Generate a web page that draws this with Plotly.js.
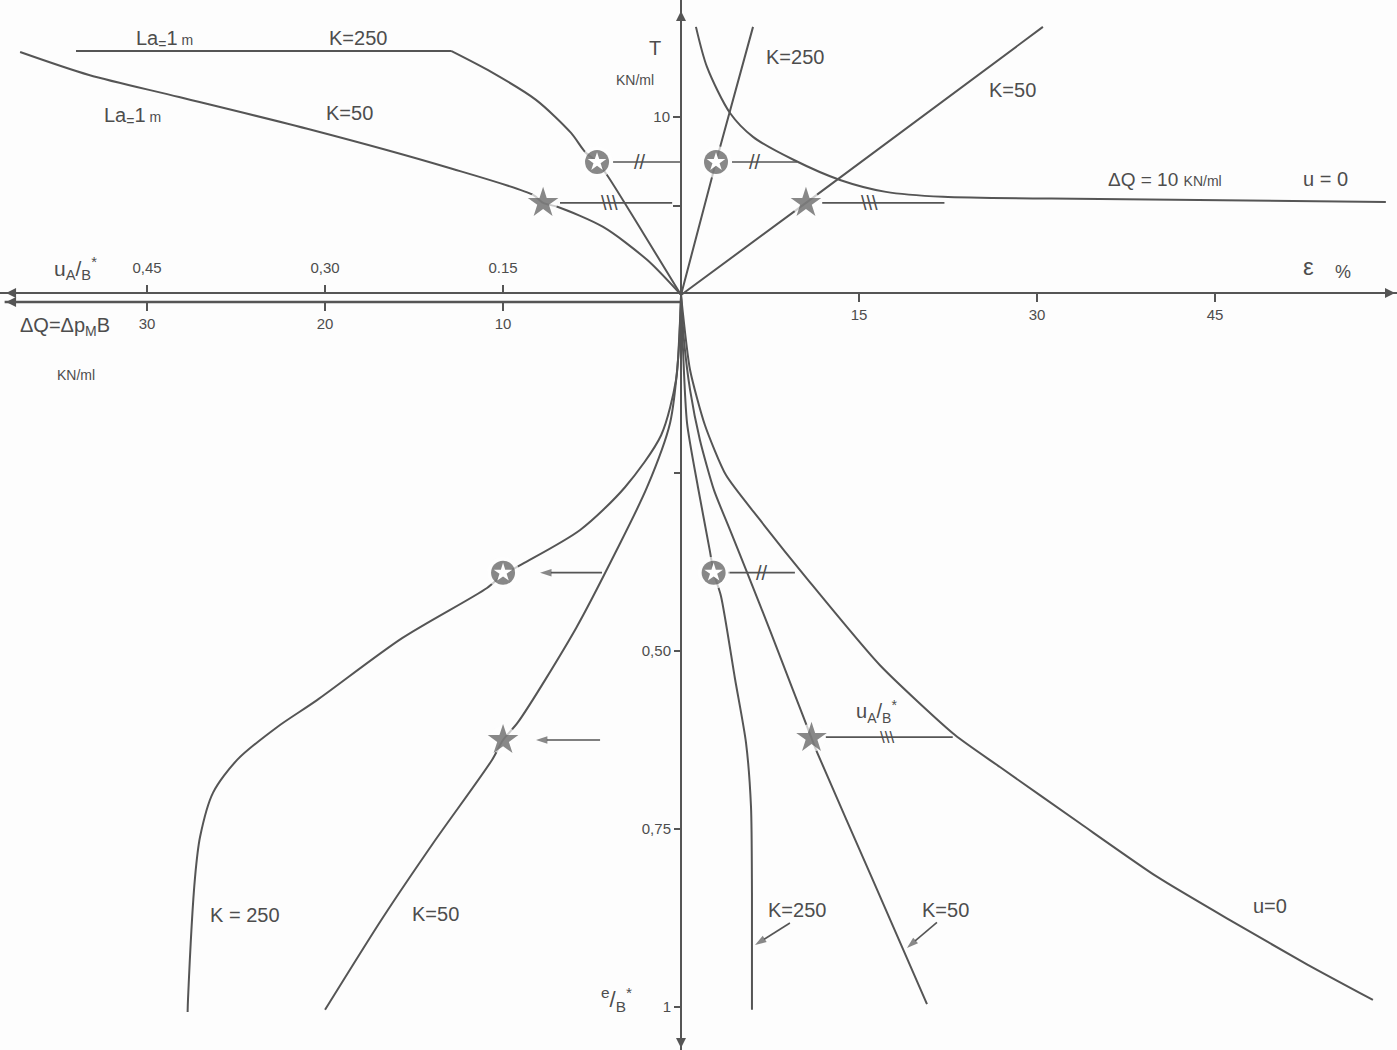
<!DOCTYPE html>
<html><head><meta charset="utf-8">
<script src="https://cdn.plot.ly/plotly-3.0.1.min.js"></script>
<style>html,body{margin:0;padding:0;background:#fdfdfd}</style>
</head><body><div id="chart" style="width:1397px;height:1050px"></div>
<script>
// ---------- DATA ----------
// Upper-left quadrant: T (KN/ml) vs ΔQ (KN/ml), La = 1 m
const ulK250Flat_dQ = [33.99, 12.92];
const ulK250Flat_T  = [13.71, 13.71];
const ulK250_dQ = [12.92, 10.67, 8.15, 6.18, 5.39, 4.72, 4.16, 2.13, 0];
const ulK250_T  = [13.71, 12.53, 10.96, 9.10, 8.03, 7.47, 6.74, 3.48, 0];
const ulK50_dQ  = [37.13, 33.26, 28.2, 20.73, 13.2, 8.31, 7.75, 6.91, 4.38, 1.91, 0];
const ulK50_T   = [13.65, 12.36, 11.12, 9.27, 7.19, 5.62, 5.17, 4.94, 3.82, 1.97, 0];
// Upper-right quadrant: T vs ε (%)
const urK250_eps = [0, 2.95, 6.07];
const urK250_T   = [0, 7.47, 15.06];
const urK50_eps  = [0, 10.53, 30.5];
const urK50_T    = [0, 5.17, 15.06];
const urU0_eps   = [1.26, 2.19, 4.13, 6.07, 9.52, 13.4, 17.27, 22.08, 35.3, 59.4];
const urU0_T     = [15.06, 12.81, 10.22, 8.88, 7.58, 6.46, 5.79, 5.51, 5.39, 5.22];
// Lower-left quadrant: e/B* vs ΔQ
const llK250_dQ = [0, 0.11, 0.28, 1.12, 3.15, 5.67, 8.93, 10.0, 10.9, 15.67, 20.45, 22.7, 24.94, 26.29, 27.02, 27.3, 27.7, 27.72];
const llK250_e  = [0, 0.063, 0.119, 0.197, 0.270, 0.330, 0.378, 0.393, 0.4115, 0.482, 0.569, 0.607, 0.653, 0.699, 0.761, 0.817, 0.99, 1.007];
const llK50_dQ  = [0, 0.17, 0.62, 1.91, 3.65, 5.9, 9.16, 10.0, 10.62, 13.93, 16.74, 20.0];
const llK50_e   = [0, 0.091, 0.180, 0.270, 0.360, 0.468, 0.600, 0.625, 0.653, 0.770, 0.874, 1.004];
// Lower-right quadrant: e/B* vs ε
const lrK250_eps = [0, 0.17, 0.51, 1.43, 2.44, 2.75, 3.37, 4.55, 5.48, 5.90, 5.98, 5.98];
const lrK250_e   = [0, 0.077, 0.180, 0.270, 0.360, 0.39, 0.423, 0.539, 0.629, 0.719, 0.840, 1.004];
const lrK50_eps  = [0, 0.25, 0.76, 1.60, 2.78, 4.13, 5.65, 7.50, 9.44, 11.04, 11.46, 16.1, 20.73];
const lrK50_e    = [0, 0.063, 0.133, 0.204, 0.274, 0.330, 0.393, 0.471, 0.555, 0.624, 0.642, 0.819, 0.996];
const lrU0_eps   = [0, 0.76, 2.02, 3.79, 6.66, 10.70, 16.77, 23.09, 26.88, 33.62, 40.11, 46.26, 52.75, 58.31];
const lrU0_e     = [0, 0.105, 0.183, 0.253, 0.316, 0.400, 0.520, 0.618, 0.663, 0.742, 0.817, 0.878, 0.940, 0.990];
// Marked points: [circled star, filled star]
const ulMark_dQ = [4.72, 7.75];  const ulMark_T = [7.47, 5.17];
const urMark_eps = [2.95, 10.53]; const urMark_T = [7.47, 5.17];
const llMark_dQ = [10, 10];      const llMark_e = [0.39, 0.625];
const lrMark_eps = [2.75, 11.0]; const lrMark_e = [0.39, 0.622];
// Reference (projection) lines
const ulRing_dQ = [3.82, 0.06];  const ulRing_T = [7.47, 7.47];
const ulStar_dQ = [6.8, 0.5];    const ulStar_T = [5.17, 5.17];
const urRing_eps = [4.3, 9.77];  const urRing_T = [7.47, 7.47];
const urStar_eps = [11.9, 22.2]; const urStar_T = [5.17, 5.17];
const lrRing_eps = [3.96, 9.6];  const lrRing_e = [0.39, 0.39];
const lrStar_eps = [12.2, 22.9]; const lrStar_e = [0.621, 0.621];
// Lower-left arrows: [tail, head] ΔQ at level e/B*
const llArrowRing_dQ = [4.44, 7.92]; const llArrowRing_e = [0.39, 0.39];
const llArrowStar_dQ = [4.55, 8.15]; const llArrowStar_e = [0.625, 0.625];
// Lower-right label pointers: [tail, head]
const lrPtrK250_eps = [9.18, 6.24];  const lrPtrK250_e = [0.882, 0.913];
const lrPtrK50_eps  = [21.57, 19.04]; const lrPtrK50_e  = [0.881, 0.917];
// Tick values / labels
const epsTicks = [15, 30, 45];
const dQTicks  = [10, 20, 30];
const uTicks   = [0.15, 0.30, 0.45];
const uTickText = ['0.15', '0,30', '0,45'];
const TTicks   = [10];
const TMinor   = [5];
const eTicks   = [0.5, 0.75, 1];
const eTickText = ['0,50', '0,75', '1'];
const eMinor   = [0.25];

// ---------- STYLE ----------
const INK = '#555555';
const TXT = '#4d4d4d';
const BG = '#fdfdfd';
const FONT = 'Liberation Sans, Arial, Helvetica, sans-serif';

function curve(x, y, xa, ya, w, smooth) {
  return {x: x, y: y, xaxis: xa, yaxis: ya, mode: 'lines', hoverinfo: 'skip',
          line: {color: INK, width: w || 2, shape: smooth ? 'spline' : 'linear', smoothing: smooth || 0}};
}
function marks(x, y, xa, ya) {
  return [
    // white halo that opens a gap in the curves
    {x: x, y: y, xaxis: xa, yaxis: ya, mode: 'markers', hoverinfo: 'skip',
     marker: {symbol: 'circle', size: [32, 28], color: BG, line: {width: 0}}},
    {x: x, y: y, xaxis: xa, yaxis: ya, mode: 'markers', hoverinfo: 'skip',
     marker: {symbol: ['circle', 'star'], size: [24, 23], color: INK, line: {width: 0}}},
    {x: [x[0]], y: [y[0]], xaxis: xa, yaxis: ya, mode: 'markers', hoverinfo: 'skip',
     marker: {symbol: 'star', size: 14, color: '#ffffff', line: {width: 0}}}
  ];
}
function arrowLine(x, y, xa, ya) {
  return {x: x, y: y, xaxis: xa, yaxis: ya, mode: 'lines+markers', hoverinfo: 'skip',
    line: {color: INK, width: 1.6},
    marker: {symbol: 'arrow', angleref: 'previous', size: [0, 12], color: INK, line: {width: 0}}};
}
function axisHead(sym, x, y, xa, ya) {
  return {x: [x], y: [y], xaxis: xa, yaxis: ya, mode: 'markers', hoverinfo: 'skip', cliponaxis: false,
    marker: {symbol: sym, size: 10, color: INK, line: {width: 0}}};
}

const data = [
  curve(ulK250Flat_dQ, ulK250Flat_T, 'x2', 'y'),
  curve(ulK250_dQ, ulK250_T, 'x2', 'y', 2, 0.8),
  curve(ulK50_dQ, ulK50_T, 'x2', 'y', 2, 0.8),
  curve(urK250_eps, urK250_T, 'x', 'y'),
  curve(urK50_eps, urK50_T, 'x', 'y'),
  curve(urU0_eps, urU0_T, 'x', 'y', 2, 0.8),
  curve(llK250_dQ, llK250_e, 'x2', 'y2', 2, 0.8),
  curve(llK50_dQ, llK50_e, 'x2', 'y2', 2, 0.8),
  curve(lrK250_eps, lrK250_e, 'x', 'y2', 2, 0.7),
  curve(lrK50_eps, lrK50_e, 'x', 'y2', 2, 0.6),
  curve(lrU0_eps, lrU0_e, 'x', 'y2', 2, 0.6),
  curve(ulRing_dQ, ulRing_T, 'x2', 'y', 1.7),
  curve(ulStar_dQ, ulStar_T, 'x2', 'y', 1.7),
  curve(urRing_eps, urRing_T, 'x', 'y', 1.7),
  curve(urStar_eps, urStar_T, 'x', 'y', 1.7),
  curve(lrRing_eps, lrRing_e, 'x', 'y2', 1.7),
  curve(lrStar_eps, lrStar_e, 'x', 'y2', 1.7),
  ...marks(ulMark_dQ, ulMark_T, 'x2', 'y'),
  ...marks(urMark_eps, urMark_T, 'x', 'y'),
  ...marks(llMark_dQ, llMark_e, 'x2', 'y2'),
  ...marks(lrMark_eps, lrMark_e, 'x', 'y2'),
  arrowLine(llArrowRing_dQ, llArrowRing_e, 'x2', 'y2'),
  arrowLine(llArrowStar_dQ, llArrowStar_e, 'x2', 'y2'),
  arrowLine(lrPtrK250_eps, lrPtrK250_e, 'x', 'y2'),
  arrowLine(lrPtrK50_eps, lrPtrK50_e, 'x', 'y2'),
  // axis arrowheads (tips at the axis ends)
  axisHead('arrow-up', 0, 15.95, 'x', 'y'),
  axisHead('arrow-down', 0, 1.0576, 'x', 'y2'),
  axisHead('arrow-right', 60.17, 0.115, 'x', 'y'),
  axisHead('arrow-left', 37.92, 0.115, 'x2', 'y'),
  axisHead('arrow-left', 37.92, -0.39, 'x2', 'y'),
  {x: uTicks, y: uTicks.map(() => 0), xaxis: 'x3', yaxis: 'y', mode: 'markers',
   marker: {opacity: 0}, hoverinfo: 'skip'}
];

function txt(text, x, y, xref, yref, size) {
  return {text: text, x: x, y: y, xref: xref, yref: yref, showarrow: false,
    font: {family: FONT, size: size, color: TXT}};
}

const annotations = [
  // upper-left
  txt('La<sub>=</sub>1<span style="font-size:14px"> m</span>', 29.0, 14.35, 'x2', 'y', 20),
  txt('K=250', 18.15, 14.45, 'x2', 'y', 20),
  txt('La<sub>=</sub>1<span style="font-size:14px"> m</span>', 30.8, 10.0, 'x2', 'y', 20),
  txt('K=50', 18.6, 10.2, 'x2', 'y', 20),
  txt('T', 1.46, 13.9, 'x2', 'y', 20),
  txt('KN/ml', 2.6, 12.1, 'x2', 'y', 14),
  txt('u<sub>A</sub>/<sub>B</sub><sup>*</sup>', 34.0, 1.5, 'x2', 'y', 21),
  txt('ΔQ=Δp<sub>M</sub>B', 34.6, -1.75, 'x2', 'y', 20),
  txt('KN/ml', 34.0, -4.5, 'x2', 'y', 14),
  txt('//', 2.3, 7.47, 'x2', 'y', 20),
  txt('\\\\\\', 4.0, 5.17, 'x2', 'y', 20),
  // upper-right
  txt('K=250', 9.6, 13.37, 'x', 'y', 20),
  txt('K=50', 27.9, 11.5, 'x', 'y', 20),
  txt('ΔQ = 10 <span style="font-size:14px">KN/ml</span>', 40.8, 6.46, 'x', 'y', 19),
  txt('u = 0', 54.3, 6.5, 'x', 'y', 20),
  txt('ε', 52.9, 1.6, 'x', 'y', 24),
  txt('%', 55.8, 1.3, 'x', 'y', 18),
  txt('//', 6.2, 7.47, 'x', 'y', 20),
  txt('\\\\\\', 15.9, 5.17, 'x', 'y', 20),
  // lower-left
  txt('K = 250', 24.5, 0.871, 'x2', 'y2', 20),
  txt('K=50', 13.8, 0.869, 'x2', 'y2', 20),
  txt('<sup>e</sup>/<sub>B</sub><sup>*</sup>', 3.6, 0.99, 'x2', 'y2', 22),
  // lower-right
  txt('K=250', 9.77, 0.864, 'x', 'y2', 20),
  txt('K=50', 22.3, 0.864, 'x', 'y2', 20),
  txt('u=0', 49.6, 0.858, 'x', 'y2', 20),
  txt('u<sub>A</sub>/<sub>B</sub><sup>*</sup>', 16.5, 0.585, 'x', 'y2', 20),
  txt('//', 6.83, 0.39, 'x', 'y2', 20),
  txt('\\\\\\', 17.4, 0.621, 'x', 'y2', 17)
];

const axBase = {showgrid: false, zeroline: false, fixedrange: true, ticks: 'outside',
  ticklen: 8, tickwidth: 2, tickcolor: INK, linecolor: INK, linewidth: 2.5,
  tickfont: {family: FONT, size: 15, color: TXT}, tickmode: 'array'};

const layout = {
  width: 1397, height: 1050, margin: {l: 0, r: 0, t: 0, b: 0},
  paper_bgcolor: BG, plot_bgcolor: 'rgba(0,0,0,0)', showlegend: false,
  font: {family: FONT, color: TXT},
  xaxis: Object.assign({}, axBase, {domain: [0, 1], range: [-57.39, 60.34], anchor: 'free',
    position: 0.721, side: 'bottom', showline: true, tickvals: epsTicks,
    ticktext: epsTicks.map(String)}),
  xaxis2: Object.assign({}, axBase, {overlaying: 'x', range: [38.26, -40.22], anchor: 'free',
    position: 0.7124, side: 'bottom', showline: false, tickvals: dQTicks,
    ticktext: dQTicks.map(String)}),
  xaxis3: Object.assign({}, axBase, {overlaying: 'x', range: [0.5739, -0.6033], anchor: 'free',
    position: 0.721, side: 'top', showline: false, tickvals: uTicks, ticktext: uTickText,
    ticklabelstandoff: 6}),
  yaxis: Object.assign({}, axBase, {domain: [0, 1], range: [-42.42, 16.57], anchor: 'free',
    position: 0.48747, side: 'left', showline: true, tickvals: TTicks, ticktext: ['10'], ticklen: 7,
    minor: {tickmode: 'array', tickvals: TMinor, ticks: 'outside', ticklen: 7, tickwidth: 2, tickcolor: INK}}),
  yaxis2: Object.assign({}, axBase, {overlaying: 'y', range: [1.0604, -0.4143], anchor: 'free',
    position: 0.48747, side: 'left', showline: false, tickvals: eTicks, ticktext: eTickText, ticklen: 7,
    minor: {tickmode: 'array', tickvals: eMinor, ticks: 'outside', ticklen: 7, tickwidth: 2, tickcolor: INK}}),
  shapes: [
    {type: 'line', xref: 'x2', yref: 'paper', x0: 38.0, x1: 0, y0: 0.7124, y1: 0.7124,
     line: {color: INK, width: 2.5}}
  ],
  annotations: annotations
};

Plotly.newPlot('chart', data, layout, {displayModeBar: false, staticPlot: true});
</script>
</body></html>
